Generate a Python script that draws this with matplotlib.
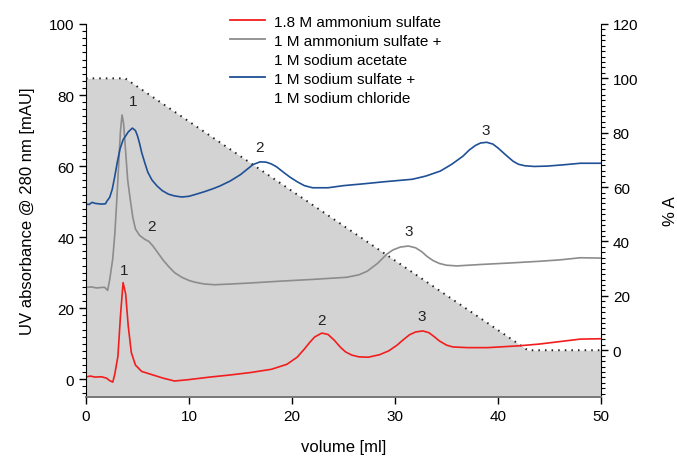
import matplotlib
matplotlib.use("Agg")
import matplotlib.pyplot as plt
from matplotlib.lines import Line2D
from matplotlib.ticker import MultipleLocator

plt.rcParams["font.family"] = ["Liberation Sans", "DejaVu Sans"]

RED = "#f21d1d"; GRAY = "#8c8c8c"; BLUE = "#1f4f95"; FILL = "#d3d3d3"

# 1.8 M ammonium sulfate
red_x = [0, 0.4, 0.9, 1.5, 2.0, 2.3, 2.6, 2.8, 3.1, 3.35, 3.6, 3.85, 4.1, 4.4, 4.8, 5.4, 6.5,
         7.5, 8.6, 10, 12, 14, 16, 18, 19.5, 20.5, 21.2, 21.7, 22.2, 22.9, 23.5, 24.1, 24.7,
         25.2, 25.8, 26.5, 27.4, 28.5, 29.4, 30.2, 30.8, 31.4, 32.0, 32.7, 33.3, 33.8, 34.3,
         35.0, 35.6, 37, 39, 42, 44, 46, 48, 50]
red_y = [0.6, 0.9, 0.6, 0.7, 0.3, -0.4, -0.8, 1.5, 6.5, 18, 27.2, 24, 15, 7.5, 4.0, 2.2, 1.2,
         0.3, -0.5, -0.1, 0.6, 1.2, 1.9, 2.8, 4.2, 6.2, 8.5, 10.3, 11.9, 13.0, 12.6, 11.0, 9.0,
         7.7, 6.8, 6.3, 6.2, 6.9, 8.0, 9.6, 11.1, 12.5, 13.3, 13.6, 13.1, 12.0, 10.8,
         9.6, 9.1, 8.9, 8.9, 9.4, 9.9, 10.6, 11.3, 11.4]

# 1 M ammonium sulfate + 1 M sodium acetate
gray_x = [0, 0.5, 1.0, 1.8, 2.1, 2.3, 2.6, 2.8, 3.0, 3.2, 3.35, 3.5, 3.65, 3.85, 4.05, 4.3,
          4.55, 4.8, 5.2, 5.7, 6.1, 6.5, 7.0, 7.5, 8.0, 8.6, 9.3, 10.0, 10.6, 11.5, 12.5, 14,
          16, 18.8, 22, 25.3, 26.5, 27.3, 28.3, 29.2, 29.8, 30.5, 31.3, 32.0, 32.6, 33.1,
          33.7, 34.3, 35, 36, 38.3, 41, 44, 46, 48, 50]
gray_y = [25.8, 26.0, 25.7, 25.9, 25.0, 28, 34, 41, 51, 62, 70, 74.4, 72, 64, 56, 50.5,
          45.5, 42.3, 40.5, 39.4, 38.8, 37.5, 35.5, 33.5, 31.8, 30, 28.7, 27.8, 27.3, 26.8,
          26.6, 26.8, 27.1, 27.6, 28.1, 28.7, 29.4, 30.4, 32.6, 35.2, 36.4, 37.2, 37.5, 37.0,
          35.9, 34.6, 33.4, 32.6, 32.1, 31.9, 32.3, 32.7, 33.2, 33.6, 34.2, 34.1]

# 1 M sodium sulfate + 1 M sodium chloride
blue_x = [0, 0.3, 0.6, 0.9, 1.5, 1.9, 2.0, 2.3, 2.55, 2.8, 3.05, 3.3, 3.6, 3.85, 4.1, 4.5,
          4.8, 5.0, 5.2, 5.4, 5.7, 6.0, 6.4, 6.9, 7.4, 8.0, 8.6, 9.3, 10.0, 10.6, 11.5, 12.3,
          13, 14, 15, 15.6, 16.2, 16.9, 17.5, 18.0, 18.5, 19.2, 19.8, 20.5, 21.2, 22, 23.5,
          25, 26.9, 29, 31.7, 33, 34.4, 35.5, 36.6, 37.2, 37.8, 38.3, 38.9, 39.5, 40.0, 40.5,
          41.0, 41.5, 42.0, 42.6, 43.5, 44.8, 46.5, 48, 50]
blue_y = [49.3, 49.2, 49.8, 49.5, 49.3, 49.4, 50.0, 51.2, 53.5, 57.2, 61.3, 64.8, 67.4, 68.5,
          69.6, 70.7, 70.0, 68.5, 66.4, 63.9, 61, 58.3, 56.1, 54.4, 53.1, 52.1, 51.6, 51.3,
          51.5, 52, 52.8, 53.6, 54.4, 55.8, 57.6, 59, 60.4, 61.2, 61.1, 60.6, 59.8, 58.2,
          56.9, 55.6, 54.5, 53.9, 53.9, 54.5, 55, 55.6, 56.3, 57.2, 58.6, 60.5, 62.8, 64.5,
          65.8, 66.5, 66.7, 66.2, 65.1, 63.8, 62.5, 61.3, 60.5, 60.1, 59.9, 60, 60.4, 60.8,
          60.8]

# gradient (% A)
grad_x = [0, 3.8, 42.9, 50]
grad_y = [100, 100, 0, 0]

labels = ["1.8 M ammonium sulfate", "1 M ammonium sulfate +", "1 M sodium acetate",
          "1 M sodium sulfate +", "1 M sodium chloride"]

# peak numbers: (text, x, y)
peaks = [("1", 3.7, 30.7), ("2", 22.9, 16.6), ("3", 32.6, 17.8),
         ("1", 4.6, 78.3), ("2", 6.4, 43.1), ("3", 31.3, 41.6),
         ("2", 16.8, 65.4), ("3", 38.8, 70.1)]

fig = plt.figure(figsize=(6.77, 4.60), dpi=100)
ax = fig.add_axes([86/677, 62/460, 515/677, 373/460])
ax2 = ax.twinx()
ax.set_zorder(ax2.get_zorder() + 1)
ax.patch.set_visible(False)

ax2.fill_between(grad_x, -17.2, grad_y, color=FILL, lw=0)
ax2.plot(grad_x, grad_y, color="#222222", lw=1.4, ls=(0, (0.8, 2.6)))

ax.plot(red_x, red_y, color=RED, lw=1.2)
ax.plot(gray_x, gray_y, color=GRAY, lw=1.2)
ax.plot(blue_x, blue_y, color=BLUE, lw=1.2)

for t, x, y in peaks:
    ax.text(x, y, t, ha="center", va="center", fontsize=11, color="#222222")

ax.set_xlim(0, 50)
ax.set_ylim(-5, 100)
ax2.set_ylim(-17.2, 120)

ax.xaxis.set_major_locator(MultipleLocator(10))
ax.yaxis.set_major_locator(MultipleLocator(20))
ax.yaxis.set_minor_locator(MultipleLocator(2))
ax2.yaxis.set_major_locator(MultipleLocator(20))
ax2.yaxis.set_minor_locator(MultipleLocator(2))
ax.tick_params(axis="both", labelsize=11, direction="out", length=5, width=1)
ax.tick_params(axis="y", which="minor", length=3, width=0.8)
ax2.tick_params(axis="y", labelsize=11, direction="out", length=5, width=1)
ax2.tick_params(axis="y", which="minor", length=3, width=0.8)

for a in (ax, ax2):
    a.spines["top"].set_visible(False)
    a.spines["bottom"].set_color("#777777")
    a.spines["bottom"].set_linewidth(1.2)
ax2.spines["left"].set_visible(False)
ax.spines["right"].set_visible(False)

ax.set_xlabel("volume [ml]", fontsize=12, labelpad=12)
ax.set_ylabel("UV absorbance @ 280 nm [mAU]", fontsize=12, labelpad=10)
ax2.set_ylabel("% A", fontsize=12, labelpad=18)

handles = [Line2D([], [], color=RED, lw=1.3), Line2D([], [], color=GRAY, lw=1.3),
           Line2D([], [], color="none"), Line2D([], [], color=BLUE, lw=1.3),
           Line2D([], [], color="none")]
ax.legend(handles, labels, loc="upper left", bbox_to_anchor=(222/677, 1 - 8/460),
          bbox_transform=fig.transFigure, frameon=False, fontsize=11, handlelength=2.3,
          handletextpad=0.6, labelspacing=0.33, borderpad=0)

fig.savefig("out.png", dpi=100)
